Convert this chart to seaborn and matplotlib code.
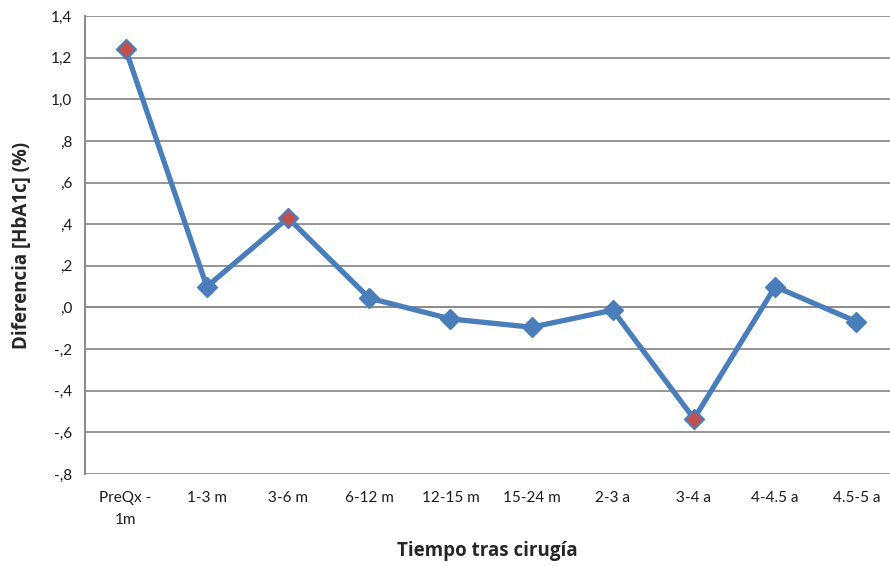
import matplotlib
matplotlib.use("Agg")
import matplotlib.pyplot as plt
import seaborn as sns
import numpy as np
import pandas as pd

# Mean HbA1c difference per follow-up interval
categories = ["PreQx -\n1m", "1-3 m", "3-6 m", "6-12 m", "12-15 m",
              "15-24 m", "2-3 a", "3-4 a", "4-4.5 a", "4.5-5 a"]
values = [1.24, 0.10, 0.43, 0.045, -0.055, -0.095, -0.013, -0.535, 0.10, -0.068]
highlighted = ["PreQx -\n1m", "3-6 m", "3-4 a"]
y_ticks = [-0.8, -0.6, -0.4, -0.2, 0.0, 0.2, 0.4, 0.6, 0.8, 1.0, 1.2, 1.4]
y_tick_labels = ["-,8", "-,6", "-,4", "-,2", ",0", ",2", ",4", ",6", ",8", "1,0", "1,2", "1,4"]

sns.set_style("white")
plt.rcParams["font.family"] = ["Lato", "DejaVu Sans"]

df = pd.DataFrame({"pos": np.arange(len(categories)), "cat": categories, "val": values})
hl = df[df["cat"].isin(highlighted)]

blue = "#4A7EBB"
red = "#C0504D"
grid = "#8C8C8C"

fig = plt.figure(figsize=(8.9, 5.66), dpi=100)
ax = fig.add_axes([85 / 890, 1 - 474 / 566, 812 / 890, (474 - 16) / 566])

for yv in y_ticks:
    ax.axhline(yv, color=grid, lw=1.3, zorder=0)

sns.lineplot(data=df, x="pos", y="val", ax=ax, color=blue, lw=3.8,
             marker="D", markersize=10, markerfacecolor=blue,
             markeredgecolor=blue, markeredgewidth=1, zorder=3)
sns.scatterplot(data=hl, x="pos", y="val", ax=ax, marker="D", s=85,
                color=red, edgecolor=blue, linewidth=1.2, zorder=4)

ax.set_xlim(-0.5, len(categories) - 0.5)
ax.set_ylim(-0.8, 1.4)
ax.set_yticks(y_ticks)
ax.set_yticklabels(y_tick_labels, fontsize=11, color="#1a1a1a")
ax.tick_params(axis="y", direction="out", length=5, width=1.3, color=grid, pad=4)

# category axis line at zero with ticks between categories
ax.spines["bottom"].set_position(("data", 0))
ax.spines["bottom"].set_color(grid)
ax.spines["bottom"].set_linewidth(1.3)
ax.set_xticks(np.arange(0.5, len(categories) - 0.5), minor=False)
ax.set_xticklabels([])
ax.tick_params(axis="x", direction="out", length=5, width=1.3, color=grid)
ax.spines["left"].set_color(grid)
ax.spines["left"].set_linewidth(1.5)
ax.spines["top"].set_visible(False)
ax.spines["right"].set_visible(False)

# category labels below the plot area
sec = ax.secondary_xaxis(0)
sec.set_xticks(df["pos"])
sec.set_xticklabels(categories, fontsize=11, color="#1a1a1a", linespacing=1.75)
sec.tick_params(length=0, pad=12)
sec.spines["bottom"].set_visible(False)

ax.set_xlabel("")
ax.set_ylabel("")
fig.text(0.5 * (85 + 890) / 890, 1 - 551 / 566, "Tiempo tras cirugía",
         ha="center", va="center", fontsize=13.5, fontweight="bold",
         family=["Open Sans", "DejaVu Sans"])
fig.text(22 / 890, 1 - 245 / 566, "Diferencia [HbA1c] (%)", rotation=90,
         ha="center", va="center", fontsize=13.5, fontweight="bold",
         family=["Open Sans", "DejaVu Sans"])

fig.savefig("out.png", dpi=100)
